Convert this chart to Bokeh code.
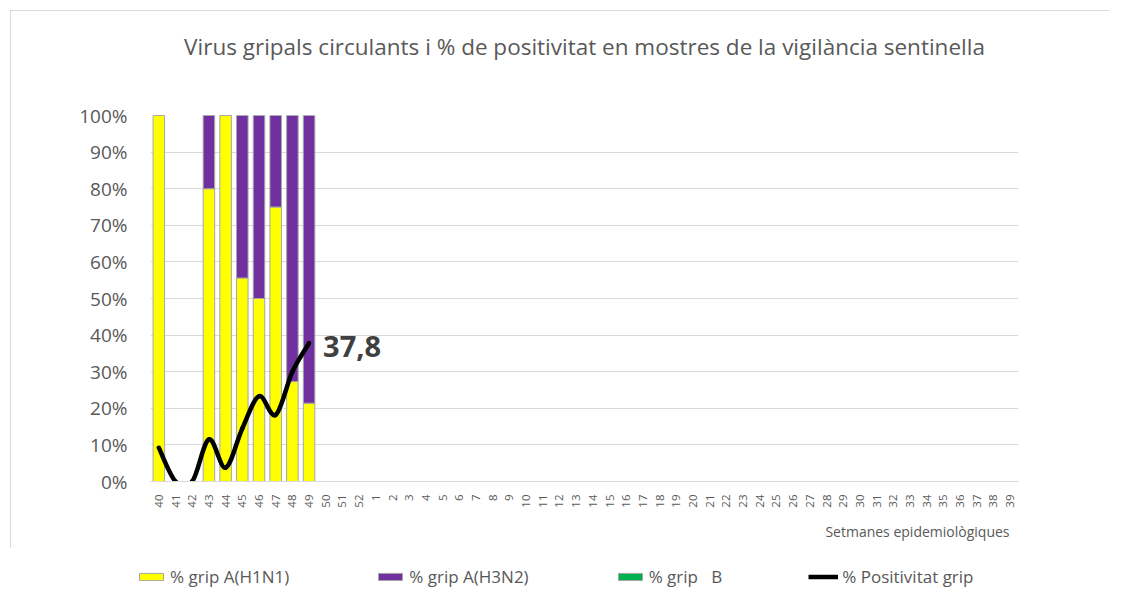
from bokeh.plotting import figure
from bokeh.layouts import column
from bokeh.models import (Range1d, FixedTicker, Legend, LegendItem, Label, Title,
                          ColumnDataSource, LinearAxis)
from bokeh.embed import file_html
from bokeh.resources import INLINE
import math

# ---- data ----
weeks = [str(w) for w in list(range(40, 53)) + list(range(1, 40))]
data_weeks = ["40", "41", "42", "43", "44", "45", "46", "47", "48", "49"]
h1n1 = [100, 0, 0, 80, 100, 55.6, 50, 75, 27.3, 21.4]
h3n2 = [0, 0, 0, 20, 0, 44.4, 50, 25, 72.7, 78.6]
grip_b = [0, 0, 0, 0, 0, 0, 0, 0, 0, 0]
positivitat = [9.2, 0, 0, 11.5, 3.8, 14.5, 23.3, 18.2, 30.0, 37.8]
last_label = "37,8"
y_ticks = [0, 10, 20, 30, 40, 50, 60, 70, 80, 90, 100]

title_txt = "Virus gripals circulants i % de positivitat en mostres de la vigilància sentinella"
xlab_txt = "Setmanes epidemiològiques"
leg_labels = ["% grip A(H1N1)", "% grip A(H3N2)", "% grip   B", "% Positivitat grip"]
colors = ["#FFFF00", "#7030A0", "#00B050"]

FONT = "Open Sans"
GREY = "#595959"
FW, FH = 867, 365

p = figure(frame_width=FW, frame_height=FH, output_backend="svg", toolbar_location=None,
           title=None,
           x_range=Range1d(-0.5, len(weeks) - 0.5), y_range=Range1d(0, 100),
           min_border_left=139, min_border_right=92, min_border_top=104, min_border_bottom=0)
p.styles = {"margin-left": "10px", "margin-top": "10px",
            "border-left": "1px solid #d9d9d9", "border-top": "1px solid #d9d9d9"}
p.outline_line_color = None
p.background_fill_color = "white"

# bottom (category) axis
xax = p.below[0]
xs_all = list(range(len(weeks)))
xax.ticker = FixedTicker(ticks=xs_all)
xax.major_label_overrides = {i: w for i, w in enumerate(weeks)}
xax.major_label_orientation = math.pi / 2
xax.major_label_text_font = FONT
xax.major_label_text_font_size = "11.5px"
xax.major_label_text_color = GREY
xax.major_tick_line_color = None
xax.minor_tick_line_color = None
xax.axis_line_color = "#d9d9d9"
xax.major_label_standoff = 7

# title as the label of an empty axis above the frame
top_axis = LinearAxis(ticker=FixedTicker(ticks=[]), axis_label=title_txt,
                      axis_label_standoff=54, axis_line_color=None,
                      major_tick_line_color=None, minor_tick_line_color=None,
                      major_label_text_font_size="0px",
                      axis_label_text_font=FONT, axis_label_text_font_size="22.5px",
                      axis_label_text_font_style="normal", axis_label_text_color=GREY)
p.add_layout(top_axis, "above")

p.yaxis.ticker = FixedTicker(ticks=y_ticks)
p.yaxis.major_label_overrides = {t: f"{t}%" for t in y_ticks}
p.yaxis.major_label_text_font = FONT
p.yaxis.major_label_text_font_size = "19px"
p.yaxis.major_label_text_color = GREY
p.yaxis.major_tick_line_color = None
p.yaxis.minor_tick_line_color = None
p.yaxis.axis_line_color = None
p.yaxis.major_label_standoff = 17

p.xgrid.grid_line_color = None
p.ygrid.grid_line_color = "#d9d9d9"

# bars
bx = [weeks.index(w) for w in data_weeks]
src = ColumnDataSource(dict(x=bx, h1n1=h1n1, h3n2=h3n2, b=grip_b))
bars = p.vbar_stack(["h1n1", "h3n2", "b"], x="x", width=0.69, source=src,
                    fill_color=colors, line_color="#a6a6a6", line_width=1)

# smoothed positivity line (Bezier through the data points)
n = len(bx)
x0s, y0s, x1s, y1s, cx0s, cy0s, cx1s, cy1s = [], [], [], [], [], [], [], []
for i in range(n - 1):
    xm, ym = bx[max(i - 1, 0)], positivitat[max(i - 1, 0)]
    xa, ya = bx[i], positivitat[i]
    xb, yb = bx[i + 1], positivitat[i + 1]
    xp, yp = bx[min(i + 2, n - 1)], positivitat[min(i + 2, n - 1)]
    x0s.append(xa); y0s.append(ya); x1s.append(xb); y1s.append(yb)
    cx0s.append(xa + (xb - xm) / 6); cy0s.append(ya + (yb - ym) / 6)
    cx1s.append(xb - (xp - xa) / 6); cy1s.append(yb - (yp - ya) / 6)
curve = p.bezier(x0=x0s, y0=y0s, x1=x1s, y1=y1s, cx0=cx0s, cy0=cy0s, cx1=cx1s, cy1=cy1s,
                 line_color="black", line_width=4.5, line_cap="round")

p.add_layout(Label(x=bx[-1], y=positivitat[-1], text=last_label, x_offset=14, y_offset=-3,
                   text_baseline="middle", text_font=FONT, text_font_size="29px",
                   text_font_style="bold", text_color="#404040"))

# x axis title
p.add_layout(Title(text=xlab_txt, align="right", offset=9, text_font=FONT,
                   text_font_size="14px", text_font_style="normal", text_color=GREY,
                   standoff=18), "below")

# legend strip (separate small figure under the chart)
lf = figure(width=1100, height=46, output_backend="svg", toolbar_location=None, title=None,
            x_range=Range1d(0, 1), y_range=Range1d(0, 1), min_border=0,
            x_axis_location=None, y_axis_location=None)
lf.outline_line_color = None
lf.xgrid.visible = False
lf.ygrid.visible = False
lr = [lf.vbar(x=[math.nan], top=[math.nan], width=1, fill_color=c, line_color="#a6a6a6")
      for c in colors]
lr.append(lf.line(x=[math.nan], y=[math.nan], line_color="black", line_width=4.5))
legend = Legend(items=[LegendItem(label=lab, renderers=[r]) for lab, r in zip(leg_labels, lr)],
                orientation="horizontal", spacing=86, glyph_width=30, glyph_height=9,
                label_standoff=4, label_text_font=FONT, label_text_font_size="17px",
                label_text_color=GREY, border_line_color=None, background_fill_alpha=0,
                padding=4, margin=0, location=(-3, 6))
lf.add_layout(legend, "center")

layout = column(p, lf, spacing=0)
open("out.html", "w").write(file_html(layout, INLINE))
